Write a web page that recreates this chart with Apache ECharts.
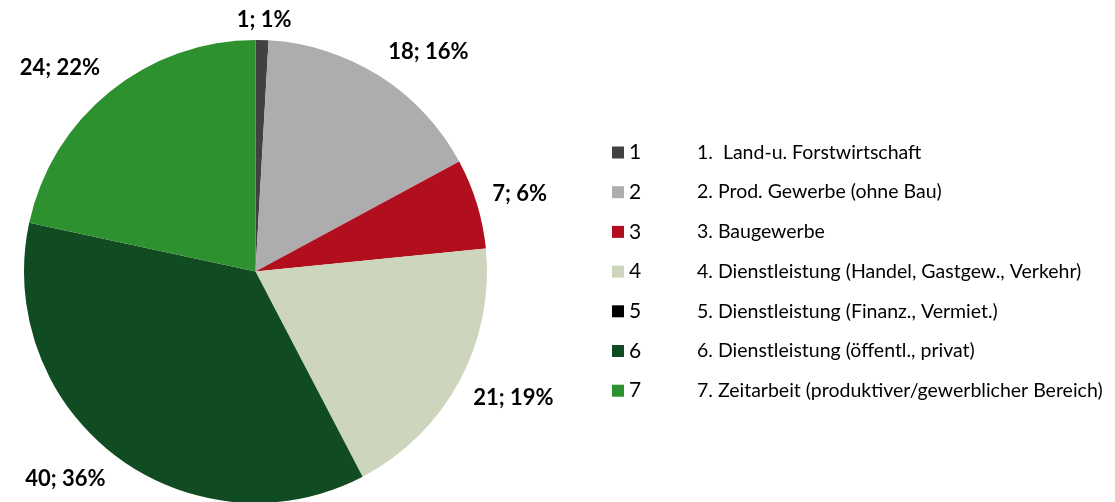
<!DOCTYPE html>
<html>
<head>
  <meta charset="UTF-8">
  <title>Branchen</title>
  <script src="https://cdn.jsdelivr.net/npm/echarts@6.0.0/dist/echarts.min.js"></script>
  <style>
    html, body { margin: 0; padding: 0; background: #fff; }
    #chart { width: 1115px; height: 502px; }
  </style>
</head>
<body>
  <div id="chart"></div>
  <script>
    // Daten
    const keys = ['1', '2', '3', '4', '5', '6', '7'];
    const values = [1, 18, 7, 21, 0, 40, 24];
    const descriptions = [
      '1.  Land-u. Forstwirtschaft',
      '2. Prod. Gewerbe (ohne Bau)',
      '3. Baugewerbe',
      '4. Dienstleistung (Handel, Gastgew., Verkehr)',
      '5. Dienstleistung (Finanz., Vermiet.)',
      '6. Dienstleistung (öffentl., privat)',
      '7. Zeitarbeit (produktiver/gewerblicher Bereich)'
    ];
    const colors = ['#414142', '#adadaf', '#b20f1e', '#cdd6bc', '#000000', '#104b22', '#2e912f'];

    const font = 'Lato, "Open Sans", sans-serif';
    const clamp = v => Math.max(-1, Math.min(1, v));

    const chart = echarts.init(document.getElementById('chart'));
    chart.setOption({
      color: colors,
      animation: false,
      legend: {
        orient: 'vertical',
        left: 607,
        top: 137,
        icon: 'rect',
        itemWidth: 12,
        itemHeight: 12,
        itemGap: 18.7,
        data: keys,
        formatter: name => '{n|' + name + '}{d|' + descriptions[keys.indexOf(name)] + '}',
        textStyle: {
          fontFamily: font,
          lineHeight: 20,
          rich: {
            n: { fontSize: 21, width: 68, lineHeight: 20, fontFamily: font, color: '#000' },
            d: { fontSize: 19.5, lineHeight: 20, fontFamily: font, color: '#000' }
          }
        }
      },
      series: [{
        type: 'pie',
        center: [255.5, 271.5],
        radius: 231.5,
        percentPrecision: 0,
        label: {
          show: true,
          position: 'outside',
          formatter: '{c}; {d}%',
          fontFamily: font,
          fontWeight: 'bold',
          fontSize: 22,
          color: '#000'
        },
        labelLine: { show: false, length: 16, length2: 0 },
        labelLayout: function (p) {
          const pts = p.labelLinePoints;
          if (!pts) return {};
          const dx = pts[1][0] - pts[0][0];
          const dy = pts[1][1] - pts[0][1];
          const len = Math.sqrt(dx * dx + dy * dy) || 1;
          const ux = dx / len, uy = dy / len;
          const w = p.labelRect.width, h = p.labelRect.height;
          return {
            x: pts[1][0] + w / 2 * clamp(ux * 2),
            y: pts[1][1] + h / 2 * clamp(uy * 1.6) + (uy < -0.99 ? 7 : 0),
            align: 'center',
            verticalAlign: 'middle'
          };
        },
        data: keys.map((k, i) => ({
          name: k,
          value: values[i],
          label: values[i] === 0 ? { show: false } : undefined
        }))
      }]
    });
  </script>
</body>
</html>
